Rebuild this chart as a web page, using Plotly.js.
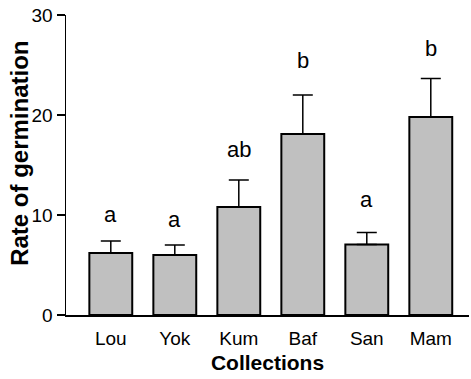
<!DOCTYPE html>
<html>
<head>
<meta charset="utf-8">
<script src="https://cdn.plot.ly/plotly-3.0.1.min.js"></script>
<style>html,body{margin:0;padding:0;background:#fff;}#chart{width:471px;height:379px;}</style>
</head>
<body>
<div id="chart"></div>
<script>
var categories = ["Lou", "Yok", "Kum", "Baf", "San", "Mam"];
var rates = [6.2, 6.0, 10.8, 18.1, 7.05, 19.8];
var errors = [1.2, 1.0, 2.7, 3.9, 1.2, 3.85];
var letters = ["a", "a", "ab", "b", "a", "b"];
var letterY = [10.1, 9.6, 16.6, 25.5, 11.6, 26.7];

var FONT = "Liberation Sans, Arial, sans-serif";

var trace = {
  type: "bar",
  x: categories,
  y: rates,
  width: 0.67,
  marker: {color: "#c0c0c0", line: {color: "#000", width: 2}},
  error_y: {type: "data", array: errors, arrayminus: rates.map(function(){return 0;}), symmetric: false, color: "#000", thickness: 1.5, width: 10},
  hoverinfo: "none"
};

var annotations = categories.map(function(c, i){
  return {x: c, y: letterY[i], xref: "x", yref: "y", text: letters[i], showarrow: false,
          font: {family: FONT, size: 22, color: "#000"}};
});
annotations.push({
  x: -0.117, y: 0.54, xref: "paper", yref: "paper", xanchor: "center", yanchor: "middle",
  text: "<b>Rate of germination</b>", textangle: -90, showarrow: false,
  font: {family: FONT, size: 24, color: "#000"}
});

var layout = {
  width: 471, height: 379,
  margin: {l: 66, r: 2, t: 15, b: 64, pad: 0},
  paper_bgcolor: "#fff", plot_bgcolor: "#fff",
  showlegend: false,
  font: {family: FONT, color: "#000"},
  xaxis: {
    type: "category", range: [-0.70, 5.597],
    showline: true, linecolor: "#000", linewidth: 1.5,
    ticks: "", showgrid: false, zeroline: false,
    ticklabelstandoff: 6,
    tickfont: {family: FONT, size: 19, color: "#000"},
    title: {text: "<b>Collections</b>", font: {family: FONT, size: 21, color: "#000"}, standoff: 7}
  },
  yaxis: {
    range: [0, 30], dtick: 10, tick0: 0,
    showline: true, linecolor: "#000", linewidth: 1.5,
    ticks: "outside", ticklen: 8, tickwidth: 1.5, tickcolor: "#000",
    showgrid: false, zeroline: false,
    tickfont: {family: FONT, size: 19, color: "#000"}
  },
  annotations: annotations
};

Plotly.newPlot("chart", [trace], layout, {staticPlot: true, displayModeBar: false});
</script>
</body>
</html>
